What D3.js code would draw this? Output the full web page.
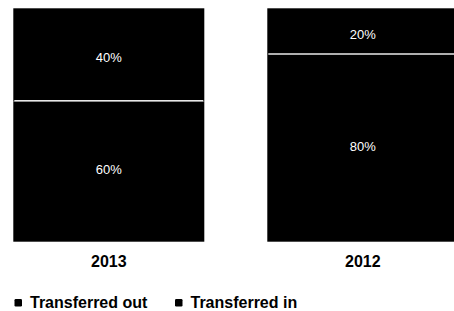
<!DOCTYPE html>
<html>
<head>
<meta charset="utf-8">
<script src="https://cdn.jsdelivr.net/npm/d3@7"></script>
<style>
  html, body { margin: 0; padding: 0; background: #fff; }
  svg { display: block; }
</style>
</head>
<body>
<svg id="chart" width="454" height="311"></svg>
<script>
const years = ["2013", "2012"];
const seriesNames = ["Transferred in", "Transferred out"];
const transferredIn = [60, 80];
const transferredOut = [40, 20];

const svg = d3.select("#chart");
const font = "'Liberation Sans', Arial, sans-serif";

const x = d3.scaleBand().domain(years).range([13.3, 458.3]).paddingInner(0.248).paddingOuter(0);
const y = d3.scaleLinear().domain([0, 100]).range([241.7, 8.3]);

const rows = years.map((yr, i) => ({ year: yr, "Transferred in": transferredIn[i], "Transferred out": transferredOut[i] }));
const stack = d3.stack().keys(seriesNames)(rows);

const g = svg.append("g");
stack.forEach(layer => {
  g.selectAll(null).data(layer).enter().append("rect")
    .attr("x", d => x(d.data.year))
    .attr("y", d => y(d[1]))
    .attr("width", x.bandwidth())
    .attr("height", d => y(d[0]) - y(d[1]))
    .attr("fill", "#000");
});

// separators
g.selectAll(null).data(stack[0]).enter().append("line")
  .attr("x1", d => x(d.data.year) + 1)
  .attr("x2", d => x(d.data.year) + x.bandwidth() - 1)
  .attr("y1", d => y(d[1]) - 1)
  .attr("y2", d => y(d[1]) - 1)
  .attr("stroke", "#e8e8e8")
  .attr("stroke-width", 1.5);

// value labels (pulled slightly toward the separator)
stack.forEach((layer, li) => {
  const pull = li === 0 ? -2.5 : 2.5;
  g.selectAll(null).data(layer).enter().append("text")
    .attr("x", d => x(d.data.year) + x.bandwidth() / 2)
    .attr("y", d => (y(d[0]) + y(d[1])) / 2 + pull)
    .attr("dy", "0.36em")
    .attr("text-anchor", "middle")
    .attr("fill", "#fff")
    .style("font-family", font)
    .style("font-size", "13px")
    .text(d => (d[1] - d[0]) + "%");
});

// year labels
const xAxis = d3.axisBottom(x).tickSize(0).tickPadding(0);
const ax = svg.append("g").attr("transform", "translate(0,255)").call(xAxis);
ax.select(".domain").remove();
ax.selectAll("text")
  .attr("dy", "0.75em")
  .attr("fill", "#000")
  .style("font-family", font)
  .style("font-size", "16px")
  .style("font-weight", "bold");

// legend
const legendOrder = ["Transferred out", "Transferred in"];
const legendX = [14.5, 175];
const lg = svg.append("g");
legendOrder.forEach((name, i) => {
  lg.append("rect")
    .attr("x", legendX[i]).attr("y", 299)
    .attr("width", 7.5).attr("height", 7.5)
    .attr("rx", 1.2)
    .attr("fill", "#000");
  lg.append("text")
    .attr("x", legendX[i] + 15.5).attr("y", 308)
    .attr("fill", "#000")
    .style("font-family", font)
    .style("font-size", "16px")
    .style("font-weight", "bold")
    .text(name);
});
</script>
</body>
</html>
